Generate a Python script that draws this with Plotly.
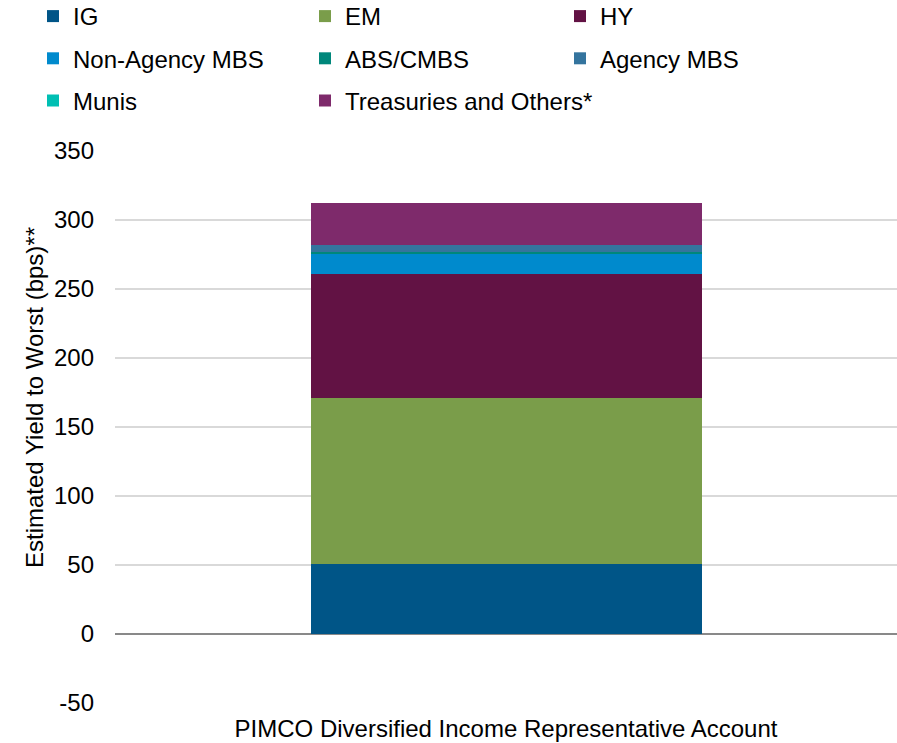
import plotly.graph_objects as go

# Sector contributions to estimated yield to worst (bps)
category = ["PIMCO Diversified Income Representative Account"]
sectors = ["IG", "EM", "HY", "Non-Agency MBS", "ABS/CMBS", "Agency MBS", "Munis",
           "Treasuries and Others*"]
contrib_bps = [51, 120, 90, 15, 1, 5, 0, 30]
colors = ["#005587", "#7A9D4A", "#621244", "#008ACD", "#00877B", "#34749E",
          "#00BFB3", "#7E2A6B"]
# legend column each sector is listed in
legend_ids = ["legend", "legend2", "legend3", "legend", "legend2", "legend3",
              "legend", "legend2"]

y_ticks = [-50, 0, 50, 100, 150, 200, 250, 300, 350]
y_ticktext = [str(v) for v in y_ticks]   # plain hyphen for negatives

FONT = "Liberation Sans, Arial, sans-serif"
fs = 24

fig = go.Figure()
for name, val, col, lg in zip(sectors, contrib_bps, colors, legend_ids):
    fig.add_trace(go.Bar(
        x=category, y=[val], name=name, marker_color=col,
        marker_line_width=0, width=0.5, legend=lg, legendgroup=name,
    ))

W, H = 897, 743
ml, mr, mt, mb = 115, 0, 151, 40
pw = W - ml - mr
ph = H - mt - mb


def px_x(p):
    return (p - ml) / pw


def px_y(p):
    return (H - mb - p) / ph


legend_common = dict(
    font=dict(family=FONT, size=fs, color="#000000"),
    bgcolor="rgba(0,0,0,0)", orientation="v", yanchor="top",
    y=px_y(-6), xanchor="left", tracegroupgap=8, itemwidth=30,
)

fig.update_layout(
    width=W, height=H,
    margin=dict(l=ml, r=mr, t=mt, b=mb, autoexpand=False),
    paper_bgcolor="white", plot_bgcolor="white",
    barmode="stack",
    font=dict(family=FONT, size=fs, color="#000000"),
    showlegend=True,
    legend=dict(x=px_x(33), **legend_common),
    legend2=dict(x=px_x(305), **legend_common),
    legend3=dict(x=px_x(560), **legend_common),
    xaxis=dict(
        range=[-0.5, 0.5], showgrid=False, zeroline=False, showline=False,
        ticks="", ticklabelstandoff=9,
        tickfont=dict(family=FONT, size=fs, color="#000000"),
    ),
    yaxis=dict(
        range=[-50, 350], tickvals=y_ticks, ticktext=y_ticktext,
        showgrid=True, gridcolor="#D9D9D9", gridwidth=2,
        zeroline=True, zerolinecolor="#898989", zerolinewidth=2,
        showline=False, ticks="", ticklabelstandoff=20,
        tickfont=dict(family=FONT, size=fs, color="#000000"),
    ),
    annotations=[dict(
        text="Estimated Yield to Worst (bps)**",
        xref="paper", yref="paper", x=px_x(34), y=px_y(398),
        xanchor="center", yanchor="middle", textangle=-90, showarrow=False,
        font=dict(family=FONT, size=fs, color="#000000"),
    )],
)

fig.write_html("out.html")
